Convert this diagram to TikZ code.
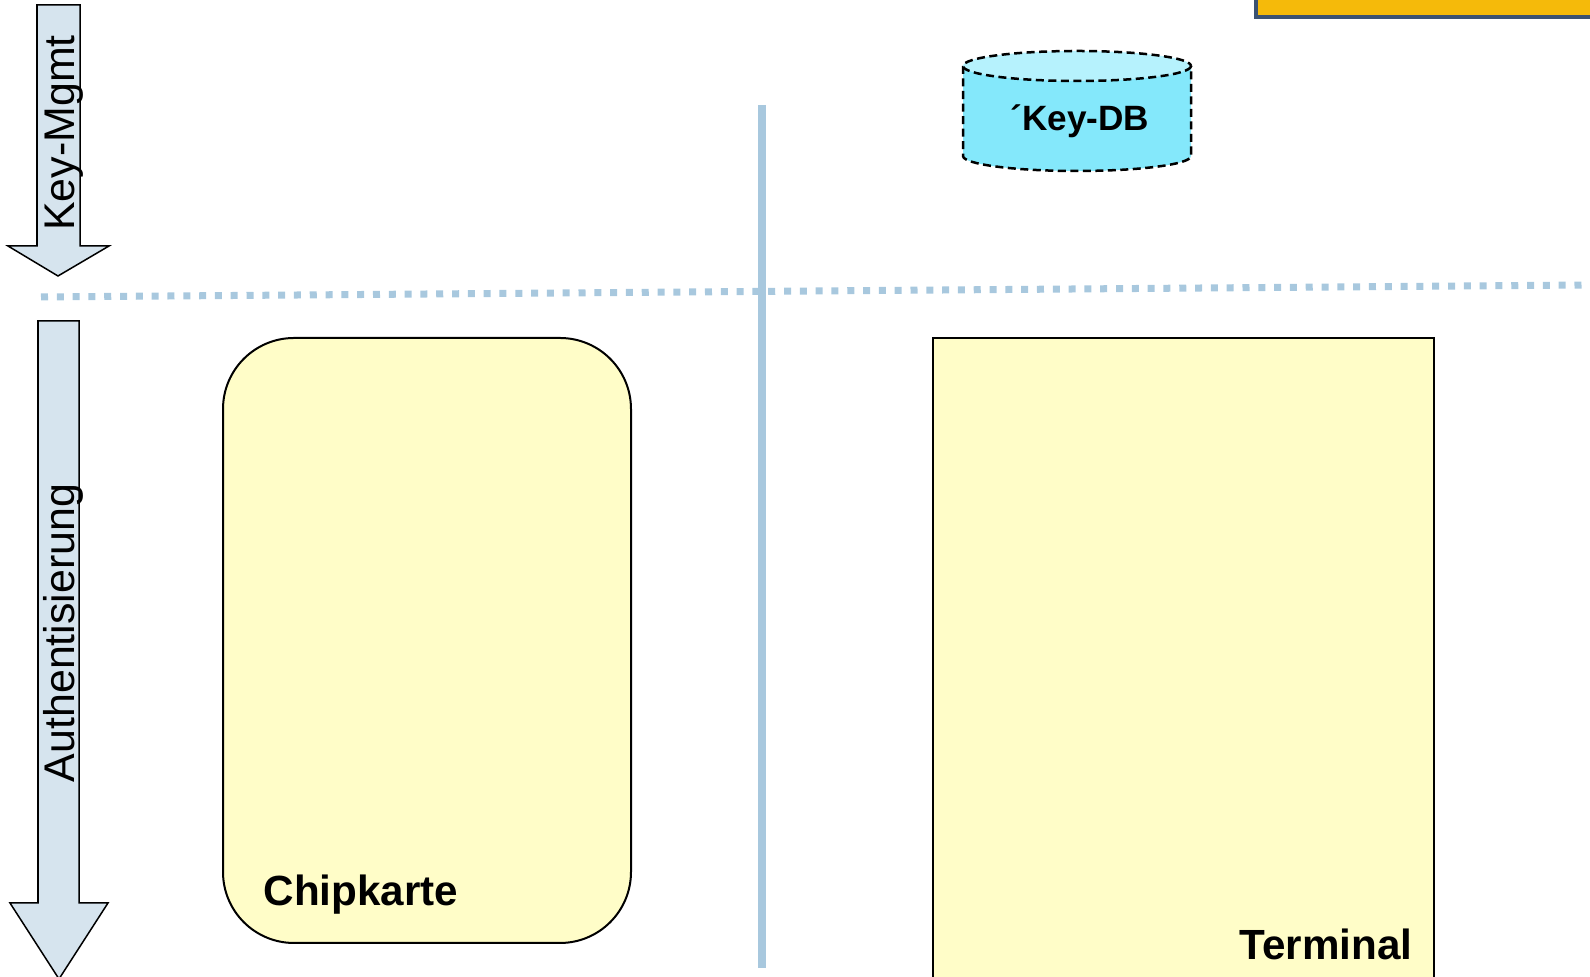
\documentclass[tikz,border=0pt]{standalone}
\usepackage{fontspec}
\setmainfont{Liberation Sans}
\definecolor{paleyellow}{HTML}{FFFDC8}
\definecolor{arrowblue}{HTML}{D6E4EE}
\definecolor{sepblue}{HTML}{A8C8DE}
\definecolor{dbbody}{HTML}{84E8FB}
\definecolor{dbtop}{HTML}{B6F2FD}
\definecolor{banner}{HTML}{F5BA0A}
\definecolor{bannerrim}{HTML}{3B5272}
\tikzset{
  flowarrow/.style={draw=black, line width=0.015cm, fill=arrowblue, line join=miter},
  phase/.style={font=\fontsize{12.2pt}{14pt}\selectfont, rotate=90, inner sep=0pt, anchor=base},
  unit/.style={draw=black, line width=0.02cm, fill=paleyellow},
  unitlabel/.style={font=\bfseries\fontsize{12pt}{14pt}\selectfont, inner sep=0pt},
  dbline/.style={draw=black, line width=0.025cm, dash pattern=on 0.08cm off 0.045cm},
}
\begin{document}
\begin{tikzpicture}[x=0.01cm, y=-0.01cm]
\useasboundingbox (0,0) rectangle (1590,977);
\clip (0,0) rectangle (1590,977);

% banner in the top right corner
\draw[fill=banner, draw=bannerrim, line width=0.04cm] (1256,-30) rectangle (1620,17);

% phase arrows on the left
\draw[flowarrow] (37,5) -- (80,5) -- (80,246) -- (109,246) -- (58,276) -- (8,246) -- (37,246) -- cycle;
\node[phase] (keymgmt) at (74,133) {Key-Mgmt};
\draw[flowarrow] (38,321) -- (79,321) -- (79,903) -- (108,903) -- (59,979) -- (10,903) -- (38,903) -- cycle;
\node[phase] (auth) at (74,633) {Authentisierung};

% separators
\draw[sepblue, line width=0.08cm] (762,105) -- (762,968);
\draw[sepblue, line width=0.07cm, dash pattern=on 0.07cm off 0.088cm] (41,297) -- (1590,285);

% key database
\path[fill=dbbody] (963,66) -- (963,156) arc[start angle=180, end angle=0, x radius=114, y radius=15] -- (1191,66) -- cycle;
\draw[dbline] (963,66) -- (963,156) arc[start angle=180, end angle=0, x radius=114, y radius=15] -- (1191,66);
\draw[dbline, fill=dbtop] (1077,66) ellipse[x radius=114, y radius=15];
\node[font=\bfseries\fontsize{10pt}{12pt}\selectfont, inner sep=0pt] (keydb) at (1080,121) {´Key-DB};

% chip card and terminal
\draw[unit, rounded corners=0.71cm] (223,338) rectangle (631,943);
\node[unitlabel, anchor=west] (chip) at (263,895) {Chipkarte};
\draw[unit] (933,338) rectangle (1434,990);
\node[unitlabel, anchor=east] (term) at (1413,944) {Terminal};
\end{tikzpicture}
\end{document}
